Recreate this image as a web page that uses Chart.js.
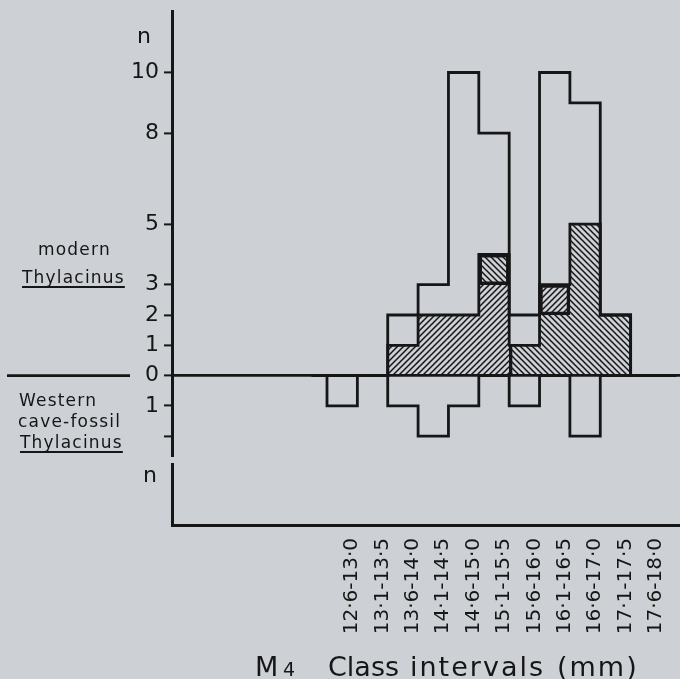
<!DOCTYPE html>
<html>
<head>
<meta charset="utf-8">
<script src="https://cdn.jsdelivr.net/npm/chart.js@4.4.0/dist/chart.umd.min.js"></script>
<style>
  html, body { margin: 0; padding: 0; background: #cdd1d6; }
  #wrap { width: 680px; height: 679px; position: relative; }
</style>
</head>
<body>
<div id="wrap"><canvas id="histChart"></canvas></div>
<script>
// M4 class intervals (mm)
const classes = ['12·6-13·0', '13·1-13·5', '13·6-14·0', '14·1-14·5', '14·6-15·0', '15·1-15·5',
                 '15·6-16·0', '16·1-16·5', '16·6-17·0', '17·1-17·5', '17·6-18·0'];
// modern Thylacinus, total per class (open outline)
const modernTotal = [0, 0, 2, 3, 10, 8, 2, 10, 9, 2, 0];
// hatched parts of it: right-leaning (/) and left-leaning (\) hatching
const hatchA = [0, 0, 1, 2, 2, 3, 0, 1, 0, 0, 0];
const hatchB = [0, 0, 0, 0, 0, 1, 1, 2, 5, 2, 0];
// western cave-fossil Thylacinus, drawn below zero
const fossil = [1, 0, 1, 2, 1, 0, 1, 0, 2, 0, 0];
// from this class on the (\) hatching sits at the bottom of the column
const rightGroupStart = 6;

const yTicks = [10, 8, 5, 3, 2, 1, 0, -1, -2];
const yTickLabels = ['10', '8', '5', '3', '2', '1', '0', '1', ''];

const INK = '#161616';
const BG = '#cdd1d6';
const FONT = '"DejaVu Sans", sans-serif';
const LW = 2.8;

function hatch(dir) {
    const s = 6;
    const c = document.createElement('canvas');
    c.width = s; c.height = s;
    const g = c.getContext('2d');
    g.strokeStyle = INK;
    g.lineWidth = 1.5;
    g.beginPath();
    if (dir === '/') {
        g.moveTo(-1, s + 1); g.lineTo(s + 1, -1);
        g.moveTo(-1, 1); g.lineTo(1, -1);
        g.moveTo(s - 1, s + 1); g.lineTo(s + 1, s - 1);
    } else {
        g.moveTo(-1, -1); g.lineTo(s + 1, s + 1);
        g.moveTo(-1, s - 1); g.lineTo(1, s + 1);
        g.moveTo(s - 1, -1); g.lineTo(s + 1, 1);
    }
    g.stroke();
    return g.createPattern(c, 'repeat');
}

// step outline: pad a zero each side so it closes on the class edges
function stepData(values, sign) {
    const pts = [{ x: -1, y: 0 }];
    values.forEach((v, i) => pts.push({ x: i, y: sign * v }));
    pts.push({ x: values.length, y: 0 });
    return pts;
}

const hatchedTotal = hatchA.map((v, i) => v + hatchB[i]);

const barsA = hatchA.map((v, i) => {
    const base = i >= rightGroupStart ? hatchB[i] : 0;
    return { x: i, y: [base, base + v] };
});
const barsB = hatchB.map((v, i) => {
    const base = i >= rightGroupStart ? 0 : hatchA[i];
    return { x: i, y: [base, base + v] };
});

// segments stacked on the other hatching get their own box
function boxBorder(ctx) {
    const r = ctx.raw;
    if (!r) return 0;
    if (r.y[0] > 0 && r.y[1] > r.y[0]) return LW;
    if (r.x === rightGroupStart && r.y[1] > 0) return { left: LW, top: 0, right: 0, bottom: 0 };
    return 0;
}

const extraText = {
    id: 'extraText',
    afterDraw(chart) {
        const c = chart.ctx;
        const yScale = chart.scales.y;
        const zeroY = yScale.getPixelForValue(0);
        c.save();
        c.fillStyle = INK;
        c.strokeStyle = INK;
        c.textAlign = 'left';
        c.textBaseline = 'alphabetic';

        // left legend labels
        c.font = '17px ' + FONT;
        c.letterSpacing = '1.2px';
        const label = (t, x, y, under) => {
            c.fillText(t, x, y);
            if (under) {
                const w = c.measureText(t).width;
                c.lineWidth = 1.8;
                c.beginPath(); c.moveTo(x, y + 4); c.lineTo(x + w, y + 4); c.stroke();
            }
        };
        label('modern', 38, 255);
        label('Thylacinus', 22, 283, true);
        label('Western', 19, 406);
        label('cave-fossil', 18, 427);
        label('Thylacinus', 20, 448, true);

        c.lineWidth = LW;
        c.beginPath(); c.moveTo(7, zeroY); c.lineTo(130, zeroY); c.stroke();

        // small break in the y axis below the fossil ticks
        c.fillStyle = BG;
        c.fillRect(yScale.right - 4, 457, 8, 6);
        c.fillStyle = INK;

        // "n" above and below
        c.letterSpacing = '0px';
        c.textAlign = 'center';
        c.font = '22px ' + FONT;
        c.fillText('n', 144, 43);
        c.fillText('n', 150, 482);

        // axis title
        c.textAlign = 'left';
        c.font = '27px ' + FONT;
        c.fillText('M', 255, 676);
        c.font = '19px ' + FONT;
        c.fillText('4', 283, 676);
        c.font = '27px ' + FONT;
        c.fillText('Class', 328, 676);
        c.letterSpacing = '2px';
        c.fillText('intervals', 410, 676);
        c.fillText('(mm)', 557, 676);
        c.restore();
    }
};

new Chart(document.getElementById('histChart'), {
    type: 'bar',
    data: {
        datasets: [
            {
                type: 'line', data: stepData(modernTotal, 1), stepped: 'middle',
                borderColor: INK, borderWidth: LW, pointRadius: 0, fill: false, order: 0
            },
            {
                type: 'line', data: stepData(hatchedTotal, 1), stepped: 'middle',
                borderColor: INK, borderWidth: LW, pointRadius: 0, fill: false, order: 0
            },
            {
                type: 'line', data: stepData(fossil, -1), stepped: 'middle',
                borderColor: INK, borderWidth: LW, pointRadius: 0, fill: false, order: 0
            },
            {
                data: barsA, backgroundColor: hatch('/'), borderColor: INK,
                borderWidth: boxBorder, borderSkipped: false, order: 1
            },
            {
                data: barsB, backgroundColor: hatch('\\'), borderColor: INK,
                borderWidth: boxBorder, borderSkipped: false, order: 1
            }
        ]
    },
    options: {
        responsive: true,
        maintainAspectRatio: false,
        animation: false,
        layout: { padding: { top: 11, right: 0, left: 0, bottom: 0 } },
        datasets: { bar: { grouped: false, barPercentage: 1, categoryPercentage: 1 } },
        plugins: { legend: { display: false }, tooltip: { enabled: false } },
        scales: {
            x: {
                type: 'linear',
                offset: false,
                min: -5.605,
                max: 11.126,
                afterBuildTicks: s => { s.ticks = classes.map((c, i) => ({ value: i })); },
                afterFit: s => { s.height = 154; s.paddingLeft = 0; s.paddingRight = 0; },
                ticks: {
                    callback: v => classes[v],
                    autoSkip: false,
                    maxRotation: 90,
                    minRotation: 90,
                    padding: 5,
                    labelOffset: 10,
                    color: INK,
                    font: { family: FONT, size: 20 }
                },
                grid: { display: false, offset: false },
                border: { display: true, color: INK, width: 3 }
            },
            y: {
                min: -4.93,
                max: 12.03,
                afterBuildTicks: s => { s.ticks = yTicks.map(v => ({ value: v })); },
                afterFit: s => { s.width = 172; s.paddingTop = 0; s.paddingBottom = 0; },
                ticks: {
                    callback: (v, i) => yTickLabels[i],
                    padding: 5,
                    color: INK,
                    font: { family: FONT, size: 22 }
                },
                grid: {
                    color: ctx => (ctx.tick && ctx.tick.value === 0 ? INK : 'rgba(0,0,0,0)'),
                    lineWidth: LW,
                    tickLength: 8,
                    tickColor: INK,
                    tickWidth: 2
                },
                border: { display: true, color: INK, width: 3 }
            }
        }
    },
    plugins: [extraText]
});
</script>
</body>
</html>
